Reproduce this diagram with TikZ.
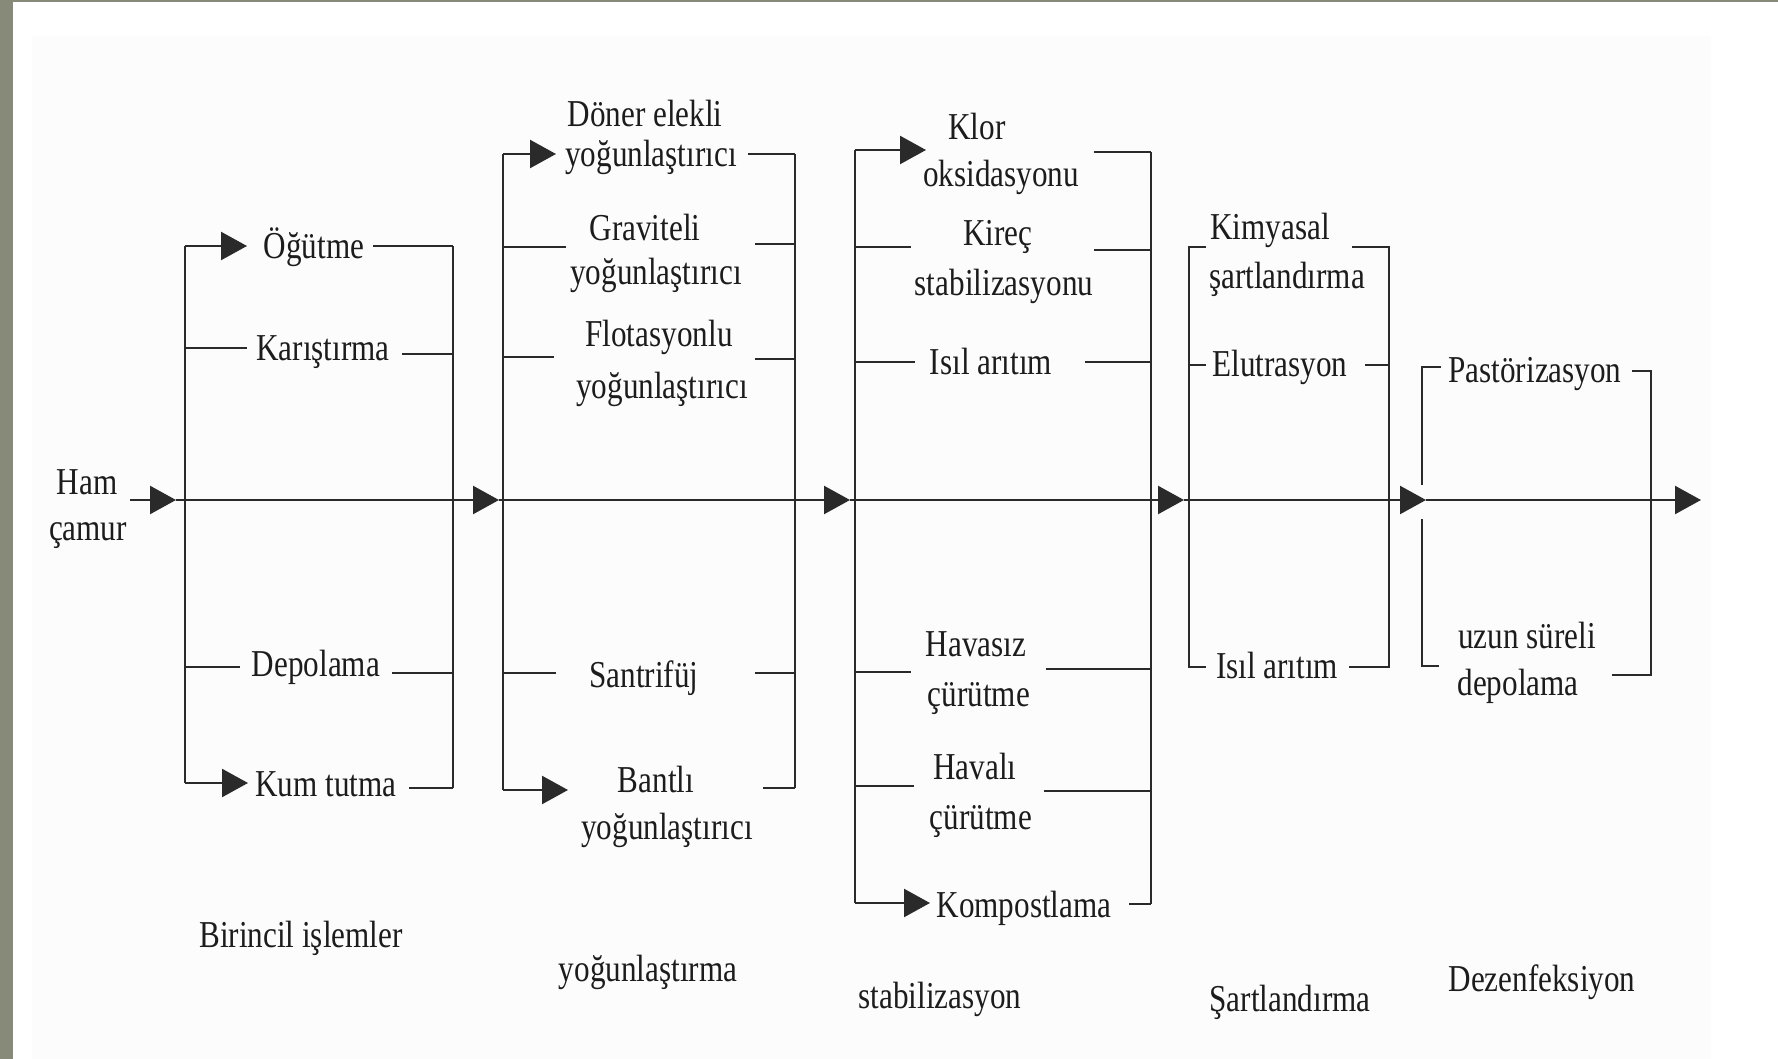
\documentclass[tikz,border=0pt]{standalone}
\usepackage{fontspec}
\setmainfont{Liberation Serif}[FakeStretch=0.82]
\usetikzlibrary{arrows.meta}
\definecolor{band}{HTML}{878A78}
\definecolor{paper}{HTML}{FCFCFC}
\definecolor{ink}{HTML}{2A2A2A}
\definecolor{txt}{HTML}{1C1C1C}
\begin{document}
\begin{tikzpicture}[x=0.5pt,y=-0.5pt,
  ln/.style={draw=ink,line width=1.2pt},
  arr/.style={ln,-{Triangle[length=13pt,width=14pt]}},
  lbl/.style={inner sep=0pt,anchor=base,yshift=-2pt,text=txt,font=\fontsize{19}{22}\selectfont}]
\useasboundingbox (0,0) rectangle (1778,1059);
% background
\fill[white] (0,0) rectangle (1778,1059);
\fill[paper] (32,36) rectangle (1711,1059);
\fill[band] (0,0) rectangle (13,1059);
\fill[band] (0,0) rectangle (1778,2.5);

% ---------- labels ----------
\node[lbl] (ham) at (87,490) {Ham};
\node[lbl] (camur) at (88,536) {çamur};
\node[lbl] (ogutme) at (314,255) {Öğütme};
\node[lbl] (karis) at (323,356) {Karıştırma};
\node[lbl] (depo) at (316,672) {Depolama};
\node[lbl] (kum) at (326,792) {Kum tutma};
\node[lbl] (doner1) at (645,123) {Döner elekli};
\node[lbl] (doner2) at (651,163) {yoğunlaştırıcı};
\node[lbl] (grav1) at (645,237) {Graviteli};
\node[lbl] (grav2) at (656,281) {yoğunlaştırıcı};
\node[lbl] (flot1) at (659,342) {Flotasyonlu};
\node[lbl] (flot2) at (662,394) {yoğunlaştırıcı};
\node[lbl] (santri) at (644,683) {Santrifüj};
\node[lbl] (bant1) at (656,788) {Bantlı};
\node[lbl] (bant2) at (667,835) {yoğunlaştırıcı};
\node[lbl] (klor1) at (977,136) {Klor};
\node[lbl] (klor2) at (1001,183) {oksidasyonu};
\node[lbl] (kirec1) at (998,242) {Kireç};
\node[lbl] (kirec2) at (1004,292) {stabilizasyonu};
\node[lbl] (isil1) at (991,370) {Isıl arıtım};
\node[lbl] (havasiz1) at (976,652) {Havasız};
\node[lbl] (havasiz2) at (979,702) {çürütme};
\node[lbl] (havali1) at (975,775) {Havalı};
\node[lbl] (havali2) at (981,825) {çürütme};
\node[lbl] (kompost) at (1024,913) {Kompostlama};
\node[lbl] (kimya1) at (1270,236) {Kimyasal};
\node[lbl] (kimya2) at (1287,285) {şartlandırma};
\node[lbl] (elut) at (1280,372) {Elutrasyon};
\node[lbl] (isil2) at (1277,674) {Isıl arıtım};
\node[lbl] (pastor) at (1535,378) {Pastörizasyon};
\node[lbl] (uzun1) at (1527,644) {uzun süreli};
\node[lbl] (uzun2) at (1518,691) {depolama};
\node[lbl] (birincil) at (301,943) {Birincil işlemler};
\node[lbl] (yogun) at (648,977) {yoğunlaştırma};
\node[lbl] (stab) at (940,1004) {stabilizasyon};
\node[lbl] (sart) at (1290,1007) {Şartlandırma};
\node[lbl] (dezen) at (1542,987) {Dezenfeksiyon};

% ---------- main line ----------
\coordinate (m0) at (130,500);
\coordinate (t1) at (176,500);
\coordinate (t2) at (499,500);
\coordinate (t3) at (850,500);
\coordinate (t4) at (1184,500);
\coordinate (t5) at (1426,500);
\coordinate (t6) at (1701,500);
\draw[arr] (m0) -- (t1);
\draw[arr] (t1) -- (t2);
\draw[arr] (t2) -- (t3);
\draw[arr] (t3) -- (t4);
\draw[arr] (t4) -- (t5);
\draw[arr] (t5) -- (t6);

% ---------- group 1 ----------
\coordinate (a1) at (185,246); \coordinate (a1e) at (247,246);
\coordinate (a1r) at (373,246); \coordinate (a1R) at (453,246);
\coordinate (b1) at (185,348); \coordinate (b1e) at (247,348);
\coordinate (b1r) at (402,354); \coordinate (b1R) at (453,354);
\coordinate (c1) at (185,667); \coordinate (c1e) at (240,667);
\coordinate (c1r) at (392,673); \coordinate (c1R) at (453,673);
\coordinate (d1) at (185,783); \coordinate (d1e) at (248,783);
\coordinate (d1r) at (409,788); \coordinate (d1R) at (453,788);
\draw[ln] (a1) -- (d1);
\draw[ln] (a1R) -- (d1R);
\draw[arr] (a1) -- (a1e); \draw[ln] (a1r) -- (a1R);
\draw[ln] (b1) -- (b1e); \draw[ln] (b1r) -- (b1R);
\draw[ln] (c1) -- (c1e); \draw[ln] (c1r) -- (c1R);
\draw[arr] (d1) -- (d1e); \draw[ln] (d1r) -- (d1R);

% ---------- group 2 ----------
\coordinate (a2) at (503,154); \coordinate (a2e) at (556,154);
\coordinate (a2r) at (748,154); \coordinate (a2R) at (795,154);
\coordinate (b2) at (503,247); \coordinate (b2e) at (566,247);
\coordinate (b2r) at (755,244); \coordinate (b2R) at (795,244);
\coordinate (c2) at (503,357); \coordinate (c2e) at (554,357);
\coordinate (c2r) at (755,359); \coordinate (c2R) at (795,359);
\coordinate (d2) at (503,673); \coordinate (d2e) at (556,673);
\coordinate (d2r) at (755,673); \coordinate (d2R) at (795,673);
\coordinate (e2) at (503,790); \coordinate (e2e) at (568,790);
\coordinate (e2r) at (763,788); \coordinate (e2R) at (795,788);
\draw[ln] (a2) -- (e2);
\draw[ln] (a2R) -- (e2R);
\draw[arr] (a2) -- (a2e); \draw[ln] (a2r) -- (a2R);
\draw[ln] (b2) -- (b2e); \draw[ln] (b2r) -- (b2R);
\draw[ln] (c2) -- (c2e); \draw[ln] (c2r) -- (c2R);
\draw[ln] (d2) -- (d2e); \draw[ln] (d2r) -- (d2R);
\draw[arr] (e2) -- (e2e); \draw[ln] (e2r) -- (e2R);

% ---------- group 3 ----------
\coordinate (a3) at (855,150); \coordinate (a3e) at (926,150);
\coordinate (a3r) at (1094,152); \coordinate (a3R) at (1151,152);
\coordinate (b3) at (855,247); \coordinate (b3e) at (911,247);
\coordinate (b3r) at (1094,250); \coordinate (b3R) at (1151,250);
\coordinate (c3) at (855,362); \coordinate (c3e) at (915,362);
\coordinate (c3r) at (1085,362); \coordinate (c3R) at (1151,362);
\coordinate (d3) at (855,672); \coordinate (d3e) at (911,672);
\coordinate (d3r) at (1046,669); \coordinate (d3R) at (1151,669);
\coordinate (e3) at (855,786); \coordinate (e3e) at (914,786);
\coordinate (e3r) at (1044,791); \coordinate (e3R) at (1151,791);
\coordinate (f3) at (855,903); \coordinate (f3e) at (930,903);
\coordinate (f3r) at (1129,904); \coordinate (f3R) at (1151,904);
\draw[ln] (a3) -- (f3);
\draw[ln] (a3R) -- (f3R);
\draw[arr] (a3) -- (a3e); \draw[ln] (a3r) -- (a3R);
\draw[ln] (b3) -- (b3e); \draw[ln] (b3r) -- (b3R);
\draw[ln] (c3) -- (c3e); \draw[ln] (c3r) -- (c3R);
\draw[ln] (d3) -- (d3e); \draw[ln] (d3r) -- (d3R);
\draw[ln] (e3) -- (e3e); \draw[ln] (e3r) -- (e3R);
\draw[arr] (f3) -- (f3e); \draw[ln] (f3r) -- (f3R);

% ---------- group 4 ----------
\coordinate (a4) at (1189,247); \coordinate (a4e) at (1206,247);
\coordinate (a4r) at (1352,247); \coordinate (a4R) at (1389,247);
\coordinate (b4) at (1189,365); \coordinate (b4e) at (1206,365);
\coordinate (b4r) at (1365,365); \coordinate (b4R) at (1389,365);
\coordinate (c4) at (1189,667); \coordinate (c4e) at (1206,667);
\coordinate (c4r) at (1349,667); \coordinate (c4R) at (1389,667);
\draw[ln] (a4e) -- (a4) -- (c4) -- (c4e);
\draw[ln] (a4r) -- (a4R) -- (c4R) -- (c4r);
\draw[ln] (b4) -- (b4e); \draw[ln] (b4r) -- (b4R);

% ---------- group 5 ----------
\coordinate (a5) at (1422,367); \coordinate (a5e) at (1441,367);
\coordinate (a5r) at (1632,371); \coordinate (a5R) at (1651,371);
\coordinate (g5u) at (1422,485); \coordinate (g5l) at (1422,519);
\coordinate (b5) at (1422,666); \coordinate (b5e) at (1439,666);
\coordinate (b5r) at (1612,675); \coordinate (b5R) at (1651,675);
\draw[ln] (a5e) -- (a5) -- (g5u);
\draw[ln] (g5l) -- (b5) -- (b5e);
\draw[ln] (a5r) -- (a5R) -- (b5R) -- (b5r);
\end{tikzpicture}
\end{document}
